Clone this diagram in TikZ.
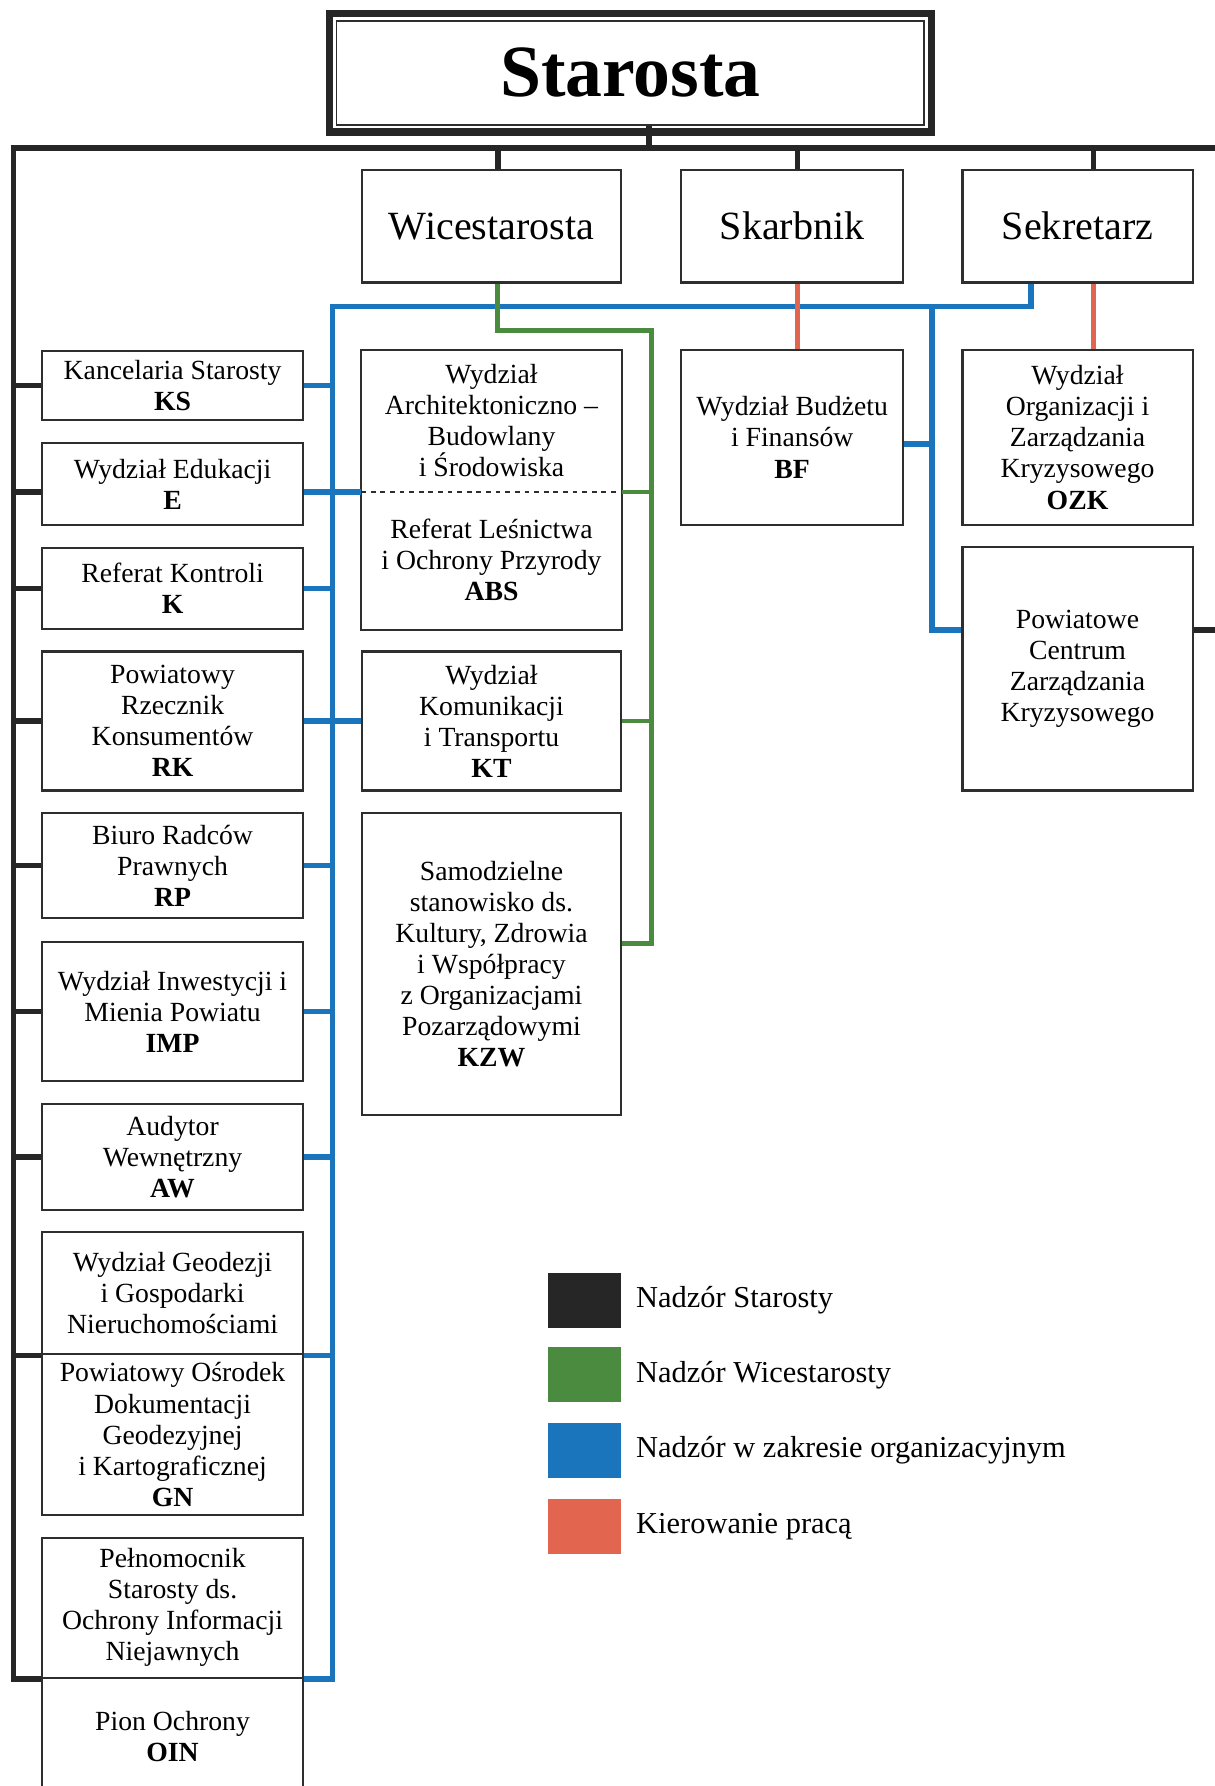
\documentclass[tikz,border=0pt]{standalone}
\usepackage{fontspec}
\setmainfont{Liberation Serif}
\usetikzlibrary{positioning,calc}
\definecolor{linebk}{HTML}{262626}
\definecolor{linegr}{HTML}{4A8B3F}
\definecolor{linebl}{HTML}{1B75BC}
\definecolor{linerd}{HTML}{E2654F}
\definecolor{boxln}{HTML}{2E2E2E}

\begin{document}
\begin{tikzpicture}[x=0.025cm,y=-0.025cm,
		box/.style={draw=boxln,line width=1.3pt,align=center,inner sep=0pt,font=\fontsize{17.3}{19.4}\selectfont},
		headbox/.style={box,minimum height=2.475cm,font=\fontsize{25}{28}\selectfont},
		leftbox/.style={box,minimum width=5.725cm},
		midbox/.style={box,minimum width=5.675cm},
		bk/.style={draw=linebk,line width=3.5pt},
		gr/.style={draw=linegr,line width=3pt},
		bl/.style={draw=linebl,line width=3.5pt},
		rd/.style={draw=linerd,line width=2.8pt},
		legsq/.style={minimum width=1.6cm,minimum height=1.2cm,inner sep=0pt},
		legtxt/.style={inner sep=0pt,font=\fontsize{19}{22}\selectfont}]
		\useasboundingbox (0,0) rectangle (1066,1568);
		\fill[white] (0,0) rectangle (1066,1568);
		
		%kierownictwo
		\node (staro) [draw=boxln,line width=1.2pt,minimum width=12.9cm,minimum height=2.275cm,font=\fontsize{46}{50}\selectfont\bfseries] at (553.5,64) {Starosta};
		\draw[linebk,line width=4.5pt] ([shift={(-5.5,-5.5)}]staro.north west) rectangle ([shift={(5.5,5.5)}]staro.south east);
		\node (wice) [headbox,minimum width=5.675cm] at (431.5,198.5) {Wicestarosta};
		\node (skarb) [headbox,minimum width=4.875cm] at (695.5,198.5) {Skarbnik};
		\node (sekr) [headbox,minimum width=5.05cm] at (946,198.5) {Sekretarz};
		
		%lewa kolumna
		\node (ks) [leftbox,minimum height=1.525cm] at (151.5,338.5) {Kancelaria Starosty\\\textbf{KS}};
		\node (e) [leftbox,minimum height=1.8cm] at (151.5,425) {Wydział Edukacji\\\textbf{E}};
		\node (k) [leftbox,minimum height=1.775cm] at (151.5,516.5) {Referat Kontroli\\\textbf{K}};
		\node (rk) [leftbox,minimum height=3.05cm] at (151.5,633) {Powiatowy\\Rzecznik\\Konsumentów\\\textbf{RK}};
		\node (rp) [leftbox,minimum height=2.3cm] at (151.5,760) {Biuro Radców\\Prawnych\\\textbf{RP}};
		\node (imp) [leftbox,minimum height=3.05cm] at (151.5,888) {Wydział Inwestycji i\\Mienia Powiatu\\\textbf{IMP}};
		\node (aw) [leftbox,minimum height=2.325cm] at (151.5,1015.5) {Audytor\\Wewnętrzny\\\textbf{AW}};
		\node (geod) [leftbox,minimum height=2.675cm] at (151.5,1135.5) {Wydział Geodezji\\i Gospodarki\\Nieruchomościami};
		\node (gn) [leftbox,minimum height=3.525cm] at (151.5,1259.5) {Powiatowy Ośrodek\\Dokumentacji\\Geodezyjnej\\i Kartograficznej\\\textbf{GN}};
		\node (pelno) [leftbox,minimum height=3.075cm] at (151.5,1411.5) {Pełnomocnik\\Starosty ds.\\Ochrony Informacji\\Niejawnych};
		\node (oin) [leftbox,minimum height=2.575cm] at (151.5,1524.5) {Pion Ochrony\\\textbf{OIN}};
		
		%srodkowa kolumna
		\node (arch) [midbox,draw=none,minimum height=3.075cm] at (431.5,369.5) {Wydział\\Architektoniczno –\\Budowlany\\i Środowiska};
		\node (abs) [midbox,draw=none,minimum height=3.025cm] at (431.5,491.5) {Referat Leśnictwa\\i Ochrony Przyrody\\\textbf{ABS}};
		\draw[boxln,line width=1.3pt] (arch.north west) rectangle (abs.south east);
		\draw[boxln,line width=0.9pt,dashed] (arch.south west) -- (arch.south east);
		\node (kt) [midbox,minimum height=3.05cm] at (431.5,633) {Wydział\\Komunikacji\\i Transportu\\\textbf{KT}};
		\node (kzw) [midbox,minimum height=6.625cm] at (431.5,846.5) {Samodzielne\\stanowisko ds.\\Kultury, Zdrowia\\i Współpracy\\z Organizacjami\\Pozarządowymi\\\textbf{KZW}};
		
		%prawa strona
		\node (bf) [box,minimum width=4.875cm,minimum height=3.85cm] at (695.5,384) {Wydział Budżetu\\i Finansów\\\textbf{BF}};
		\node (ozk) [box,minimum width=5.05cm,minimum height=3.85cm] at (946,384) {Wydział\\Organizacji i\\Zarządzania\\Kryzysowego\\\textbf{OZK}};
		\node (pczk) [box,minimum width=5.05cm,minimum height=5.35cm] at (946,587) {Powiatowe\\Centrum\\Zarządzania\\Kryzysowego};
		
		%punkty pomocnicze
		\coordinate (lt) at (12,130);
		\coordinate (rt) at (1080,130);
		\coordinate (st) at (570,130);
		\coordinate (dw) at (437,130);
		\coordinate (ds) at (700,130);
		\coordinate (dz) at (960,130);
		\coordinate (redge) at (1080,553);
		\coordinate (bs) at (905,269);
		\coordinate (blt) at (292,269);
		\coordinate (bm) at (818,269);
		\coordinate (pc) at (818,553);
		\coordinate (bfs) at (818,390);
		\coordinate (gt) at (572,290);
		\coordinate (gb) at (572,828);
		
		%nadzor w zakresie organizacyjnym
		\draw[bl] (sekr.south -| bs) -- (bs) -- (blt) -- (blt |- pelno.south) -- (pelno.south east);
		\draw[bl] (bm) -- (pc) -- (pc -| pczk.west);
		\draw[bl] (bfs -| bf.east) -- (bfs);
		\draw[bl] (ks.east) -- (ks.east -| blt);
		\draw[bl] (e.east |- arch.south) -- (arch.south west);
		\draw[bl] (k.east) -- (k.east -| blt);
		\draw[bl] (rk.east) -- (kt.west);
		\draw[bl] (rp.east) -- (rp.east -| blt);
		\draw[bl] (imp.east) -- (imp.east -| blt);
		\draw[bl] (aw.east) -- (aw.east -| blt);
		\draw[bl] (geod.south east) -- (geod.south east -| blt);
		
		%nadzor starosty
		\draw[bk] (rt) -- (lt) -- (lt |- pelno.south) -- (pelno.south west);
		\draw[bk] (staro.south -| st) -- (st);
		\draw[bk] (dw) -- (dw |- wice.north);
		\draw[bk] (ds) -- (ds |- skarb.north);
		\draw[bk] (dz) -- (dz |- sekr.north);
		\draw[bk] (ks.west) -- (ks.west -| lt);
		\draw[bk] (e.west |- arch.south) -- (lt |- arch.south);
		\draw[bk] (k.west) -- (k.west -| lt);
		\draw[bk] (rk.west) -- (rk.west -| lt);
		\draw[bk] (rp.west) -- (rp.west -| lt);
		\draw[bk] (imp.west) -- (imp.west -| lt);
		\draw[bk] (aw.west) -- (aw.west -| lt);
		\draw[bk] (geod.south west) -- (geod.south west -| lt);
		\draw[bk] (pc -| pczk.east) -- (redge);
		
		%nadzor wicestarosty
		\draw[gr] (wice.south -| dw) |- (gt) -- (gb) -- (gb -| kzw.east);
		\draw[gr] (arch.south east) -- (arch.south east -| gt);
		\draw[gr] (kt.east) -- (kt.east -| gt);
		
		%kierowanie praca
		\draw[rd] (skarb.south -| ds) -- (bf.north -| ds);
		\draw[rd] (sekr.south -| dz) -- (ozk.north -| dz);
		
		%legenda
		\node (lg1) [legsq,fill=linebk] at (513,1141.5) {};
		\node (lg2) [legsq,fill=linegr] at (513,1207) {};
		\node (lg3) [legsq,fill=linebl] at (513,1273.5) {};
		\node (lg4) [legsq,fill=linerd] at (513,1340) {};
		\node (lt1) [legtxt,right=0.325cm of lg1] {Nadzór Starosty};
		\node (lt2) [legtxt,right=0.325cm of lg2] {Nadzór Wicestarosty};
		\node (lt3) [legtxt,right=0.325cm of lg3] {Nadzór w zakresie organizacyjnym};
		\node (lt4) [legtxt,right=0.325cm of lg4] {Kierowanie pracą};
	\end{tikzpicture}
\end{document}
